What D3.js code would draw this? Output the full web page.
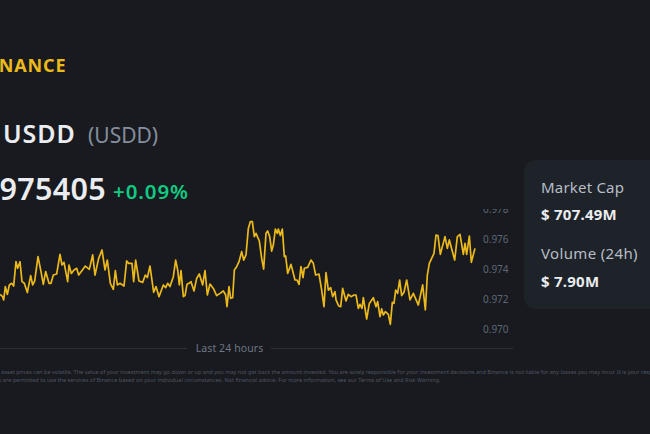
<!DOCTYPE html>
<html>
<head>
<meta charset="utf-8">
<script src="https://cdn.jsdelivr.net/npm/d3@7"></script>
<style>
  html, body { margin: 0; padding: 0; background: #181a20; overflow: hidden; }
  text { font-family: "Noto Sans", sans-serif; }
</style>
</head>
<body>
<div id="chart"></div>
<script>
// minutes into the 24h window
var minutes = [15,23,26,31,37,43,50,56,63,68,75,81,88,97,107,113,119,129,138,145,152,162,168,175,185,195,201,207,218,222,229,237,245,251,260,271,283,293,300,311,321,330,337,346,355,361,367,375,387,395,401,411,416,422,432,443,451,457,465,476,483,492,505,512,518,525,
  535,542,548,553,558,565,570,576,582,588,597,605,613,623,630,637,645,655,665,675,685,692,696,702,707,713,718,725,732,740,746,753,760,766,772,778,783,793,800,806,813,818,824,830,835,841,847,850,856,862,868,872,878,888,900,906,912,918,924,928,938,948,955,962,972,980,987,993,1000,1007,1013,1020,
  1023,1031,1037,1043,1053,1060,1068,1077,1083,1090,1095,1101,1105,1115,1123,1135,1143,1148,1155,1160,1165,1171,1180,1186,1192,1197,1202,1208,1214,1220,1227,1235,1245,1255,1270,1283,1291,1297,1303,1310,1317,1323,1329,1336,1350,1357,1363,1371,1379,1387,1395,1405,1410,1415,1423,1429,1440];

var prices = [.97234,.97219,.97197,.97286,.97234,.97297,.97308,.9729,.97452,.97408,.97452,.97319,.97308,.97246,.97359,.97297,.97323,.97486,.97386,.97301,.97386,.97308,.97308,.97363,.9737,.97501,.9743,.97448,.97319,.9743,.97374,.97397,.97408,.97363,.9739,.97423,.97401,.97497,.97363,.97474,.9753,.97397,.97463,.97308,.97268,.97392,.97297,.97308,.9729,.97457,.97441,.97441,.97319,.97463,.97323,.97314,.97363,.97346,.97423,.97248,.97286,.97219,.97297,.97279,.97308,.97286,
  .97352,.97463,.97397,.97297,.97392,.97219,.97226,.97301,.97308,.97319,.97257,.97341,.9737,.97297,.97392,.9723,.97303,.97274,.97226,.97241,.97257,.9723,.97152,.97286,.97208,.97212,.97397,.97419,.97452,.97519,.97463,.97497,.97674,.97719,.97719,.97619,.97641,.9759,.97474,.97403,.97641,.97657,.97619,.97523,.97563,.9767,.97641,.9767,.97626,.9767,.97486,.9749,.97374,.97434,.9733,.9733,.97301,.97419,.97346,.97408,.97414,.97463,.97441,.97363,.9737,.97263,.97152,.97379,.97263,.97279,.97219,.97252,
  .97197,.97157,.97152,.97274,.9719,.97234,.97219,.9723,.9723,.97141,.97168,.97141,.97212,.9707,.97174,.97212,.97152,.97186,.97086,.97137,.97097,.97119,.97101,.97034,.97181,.97174,.97263,.97241,.9733,.97226,.97248,.9733,.97197,.97241,.97163,.97297,.9713,.97363,.97441,.97474,.97508,.9763,.97626,.97501,.97619,.97541,.97597,.9753,.97463,.97619,.97634,.97501,.97574,.97501,.97623,.97448,.97541];

var priceTicks = [0.970, 0.972, 0.974, 0.976, 0.978];

var width = 650, height = 434;

var svg = d3.select("#chart")
  .append("svg")
    .attr("width", width)
    .attr("height", height)
    .style("display", "block");

svg.append("rect").attr("width", width).attr("height", height).attr("fill", "#181a20");

// chart area is cut off just under the 0.978 line
svg.append("clipPath").attr("id", "plot-clip")
  .append("rect").attr("x", 0).attr("y", 209).attr("width", 520).attr("height", 130);

var x = d3.scaleLinear().domain([0, 1440]).range([-5, 475]);
var y = d3.scaleLinear().domain([0.970, 0.978]).range([329.5, 209.5]);

var plot = svg.append("g").attr("clip-path", "url(#plot-clip)");

plot.append("path")
  .datum(d3.range(minutes.length))
  .attr("fill", "none")
  .attr("stroke", "#ecb91a")
  .attr("stroke-width", 1.7)
  .attr("stroke-linejoin", "round")
  .attr("d", d3.line()
    .x(function(i) { return x(minutes[i]); })
    .y(function(i) { return y(prices[i]); }));

var yAxis = plot.append("g")
  .attr("transform", "translate(483,0)")
  .call(d3.axisRight(y).tickValues(priceTicks).tickSize(0).tickPadding(0).tickFormat(d3.format(".3f")));
yAxis.select(".domain").remove();
yAxis.selectAll("text")
  .attr("fill", "#5e6673")
  .style("font-size", "10px")
  .style("font-family", '"Noto Sans", sans-serif');

// header
function label(txt, px, py, size, weight, color, anchor, spacing) {
  return svg.append("text")
    .attr("x", px).attr("y", py)
    .attr("font-size", size)
    .attr("font-weight", weight)
    .attr("fill", color)
    .attr("text-anchor", anchor || "start")
    .attr("letter-spacing", spacing || 0)
    .text(txt);
}

label("BINANCE", 66.5, 72, 18, 700, "#ecb91a", "end", 0.9);
label("USDD", 3, 143, 25, 600, "#eaecef", "start", 0.9);
label("(USDD)", 88, 143, 21, 400, "#848e9c");
label("0.975405", 106, 200, 30.5, 600, "#eaecef", "end", 0.3);
label("+0.09%", 113, 199, 20.5, 600, "#0ecb81", "start", 0.9);

// market card
svg.append("rect")
  .attr("x", 524).attr("y", 160)
  .attr("width", 150).attr("height", 149)
  .attr("rx", 12)
  .attr("fill", "#1e2329");
label("Market Cap", 541, 193, 15, 400, "#b7bdc6", "start", 0.2);
label("$ 707.49M", 541, 220, 15, 700, "#eaecef", "start", 0.25);
label("Volume (24h)", 541, 259, 15, 400, "#b7bdc6", "start", 0.35);
label("$ 7.90M", 541, 287, 15, 700, "#eaecef", "start", 0.25);

// time footer
svg.append("line").attr("x1", 0).attr("x2", 187).attr("y1", 348.5).attr("y2", 348.5).attr("stroke", "#2b3139");
svg.append("line").attr("x1", 271).attr("x2", 513).attr("y1", 348.5).attr("y2", 348.5).attr("stroke", "#2b3139");
label("Last 24 hours", 229.5, 352, 10.5, 400, "#6f7682", "middle", 0.1);

// disclaimer
label("Digital asset prices can be volatile. The value of your investment may go down or up and you may not get back the amount invested. You are solely responsible for your investment decisions and Binance is not liable for any losses you may incur. It is your responsibility to determine whether", -17, 374, 5.55, 400, "#4f5560");
label("if you are permitted to use the services of Binance based on your individual circumstances. Not financial advice. For more information, see our Terms of Use and Risk Warning.", -13, 382, 5.55, 400, "#4f5560");
</script>
</body>
</html>
